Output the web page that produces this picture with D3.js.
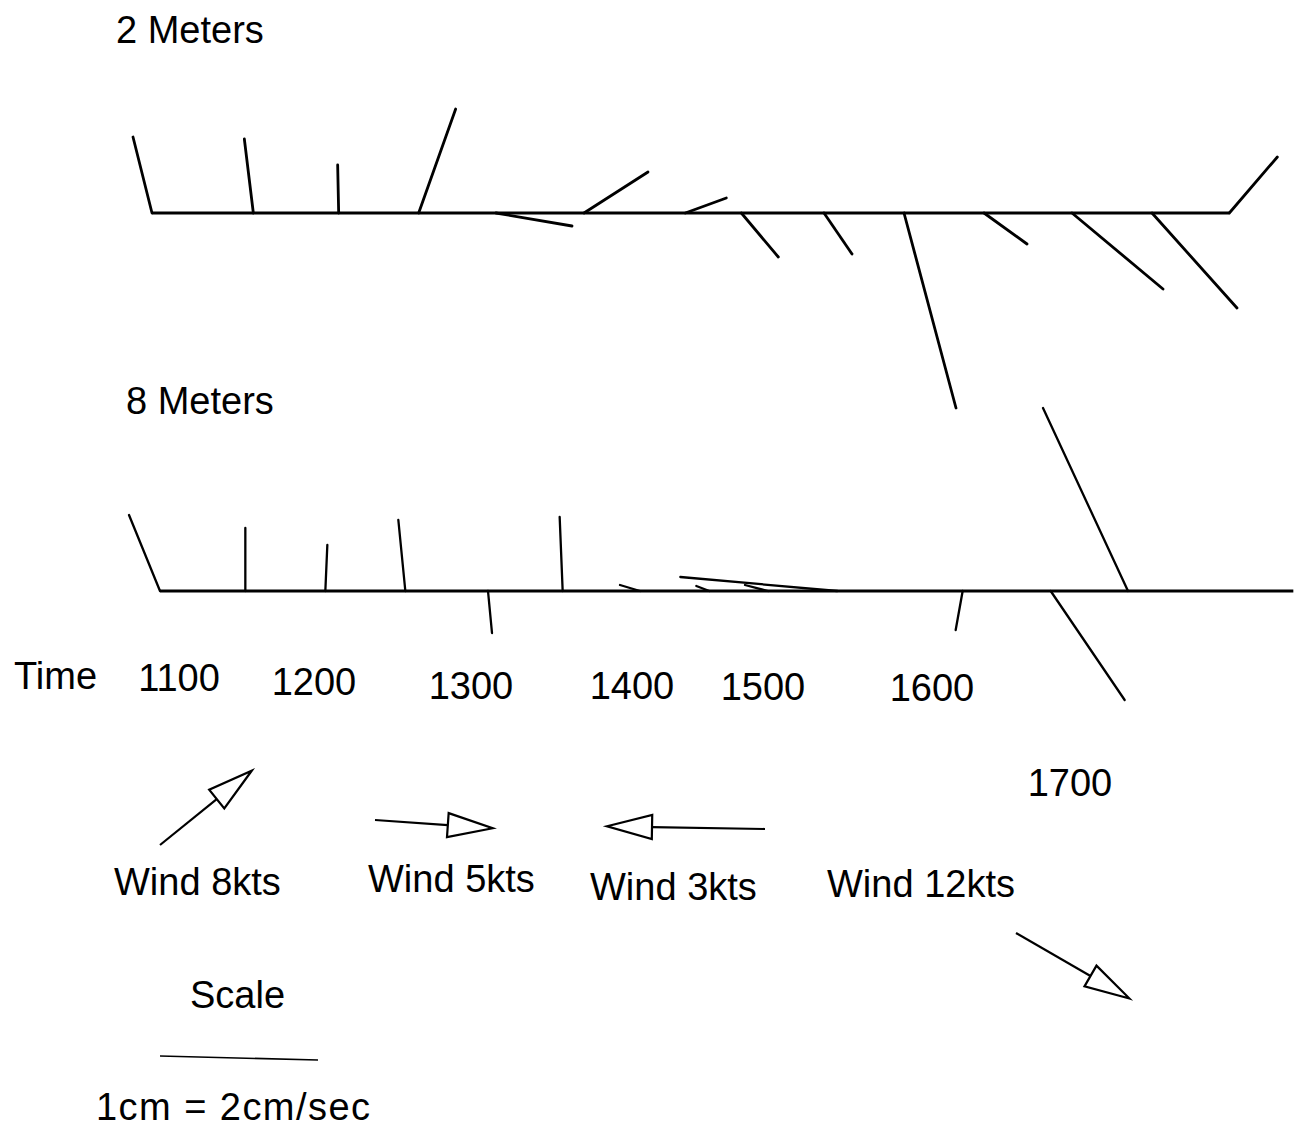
<!DOCTYPE html>
<html>
<head>
<meta charset="utf-8">
<script src="https://cdn.jsdelivr.net/npm/d3@7"></script>
<style>
  body { margin: 0; background: #fff; }
  svg { display: block; }
  text { font-family: "Liberation Sans", Arial, Helvetica, sans-serif; font-size: 38px; fill: #000; }
</style>
</head>
<body>
<svg id="chart" width="1296" height="1135"></svg>
<script>
// Current meter records: clock time of each reading, east (u) and north (v) components in cm/s.
const times2m = ["11:00", "11:38", "12:10", "12:40", "13:09", "13:42", "14:20", "14:41", "15:12", "15:42", "16:12", "16:45", "17:15", "17:44"];
const u2m = [-0.95, -0.45, -0.05, 1.85, 3.8, 3.2, 2.05, 1.85, 1.4, 2.6, 2.15, 4.55, 4.25, 2.4];
const v2m = [3.8, 3.7, 2.4, 5.2, -0.65, 2.05, 0.75, -2.2, -2.05, -9.75, -1.55, -3.8, -4.75, 2.8];

const times8m = ["11:03", "11:35", "12:05", "12:35", "13:06", "13:34", "14:03", "14:29", "14:51", "15:17", "16:04", "16:37", "17:06"];
const u8m = [-1.55, 0, 0.1, -0.35, 0.2, -0.15, -1.0, -0.65, -1.15, -7.85, -0.35, 3.7, -4.25];
const v8m = [3.8, 3.15, 2.3, 3.55, -2.1, 3.7, 0.3, 0.25, 0.3, 0.7, -1.95, -5.45, 9.15];
const recordEnd8m = "18:08";

// Hour labels along the time line
const tickLabels = ["1100", "1200", "1300", "1400", "1500", "1600", "1700"];

// Wind observations: speed and the direction the wind blows toward (degrees true)
const windLabels = ["Wind 8kts", "Wind 5kts", "Wind 3kts", "Wind 12kts"];
const windSpeedKts = [8, 5, 3, 12];
const windTowardDeg = [51, 94, 271, 120];

// ---- scales ----
const toMin = s => { const [h, m] = s.split(":").map(Number); return h * 60 + m; };
const x = d3.scaleLinear().domain([660, 1110]).range([152, 1352]);   // minutes of day -> px
const len = d3.scaleLinear().domain([0, 1]).range([0, 20]);           // cm/s -> px of stick

const svg = d3.select("#chart");

// ---- stick plots ----
function stickPlot(times, u, v, baseY, endTime, width) {
  const g = svg.append("g");
  const t = times.map(toMin);
  g.append("line")
    .attr("x1", x(t[0])).attr("x2", x(toMin(endTime)))
    .attr("y1", baseY).attr("y2", baseY)
    .attr("stroke", "#000").attr("stroke-width", 2.8);
  g.selectAll("line.stick")
    .data(t.map((tm, i) => ({ tm, u: u[i], v: v[i] })))
    .join("line")
    .attr("class", "stick")
    .attr("x1", d => x(d.tm))
    .attr("y1", baseY)
    .attr("x2", d => x(d.tm) + len(d.u))
    .attr("y2", d => baseY - len(d.v))
    .attr("stroke", "#000").attr("stroke-width", width)
    .attr("stroke-linecap", "round");
}
stickPlot(times2m, u2m, v2m, 213, times2m[times2m.length - 1], 2.8);
stickPlot(times8m, u8m, v8m, 591, recordEnd8m, 2.3);

// ---- titles ----
svg.append("text").attr("x", 116).attr("y", 43).text("2 Meters");
svg.append("text").attr("x", 126).attr("y", 414).text("8 Meters");

// ---- time labels ----
svg.append("text").attr("x", 14).attr("y", 689).text("Time");
const tickNudgeX = [27, 2, -1, 0, -29, -20, -42];
const tickY = [691, 695, 699, 699, 700, 701, 796];
svg.selectAll("text.tick")
  .data(tickLabels)
  .join("text")
  .attr("class", "tick")
  .attr("text-anchor", "middle")
  .attr("x", (d, i) => x(+d.slice(0, 2) * 60) + tickNudgeX[i])
  .attr("y", (d, i) => tickY[i])
  .text(d => d);

// ---- wind arrows ----
const arrowStart = [[160, 845], [375, 820], [765, 829], [1016, 933]];
const arrowLen = [118, 118, 158, 131];
const labelPos = [[114, 895], [368, 892], [590, 900], [827, 897]];
const headLen = 45, headHalf = 12;

windTowardDeg.forEach((deg, i) => {
  const a = deg * Math.PI / 180;
  const ux = Math.sin(a), uy = -Math.cos(a);      // unit vector on screen
  const px = -uy, py = ux;                         // perpendicular
  const [sx, sy] = arrowStart[i];
  const tx = sx + ux * arrowLen[i], ty = sy + uy * arrowLen[i];
  const bx = tx - ux * headLen, by = ty - uy * headLen;
  const g = svg.append("g");
  g.append("line")
    .attr("x1", sx).attr("y1", sy).attr("x2", bx).attr("y2", by)
    .attr("stroke", "#000").attr("stroke-width", 2.2);
  g.append("path")
    .attr("d", d3.line()([[tx, ty], [bx + px * headHalf, by + py * headHalf], [bx - px * headHalf, by - py * headHalf]]) + "Z")
    .attr("fill", "#fff").attr("stroke", "#000").attr("stroke-width", 2.2)
    .attr("stroke-linejoin", "miter");
  g.append("text").attr("x", labelPos[i][0]).attr("y", labelPos[i][1]).text(windLabels[i]);
});

// ---- scale bar ----
svg.append("text").attr("x", 190).attr("y", 1008).text("Scale");
svg.append("line")
  .attr("x1", 160).attr("y1", 1056).attr("x2", 318).attr("y2", 1060)
  .attr("stroke", "#000").attr("stroke-width", 1.6);
svg.append("text").attr("x", 96).attr("y", 1120)
  .attr("textLength", 274).attr("lengthAdjust", "spacing")
  .text("1cm = 2cm/sec");
</script>
</body>
</html>
